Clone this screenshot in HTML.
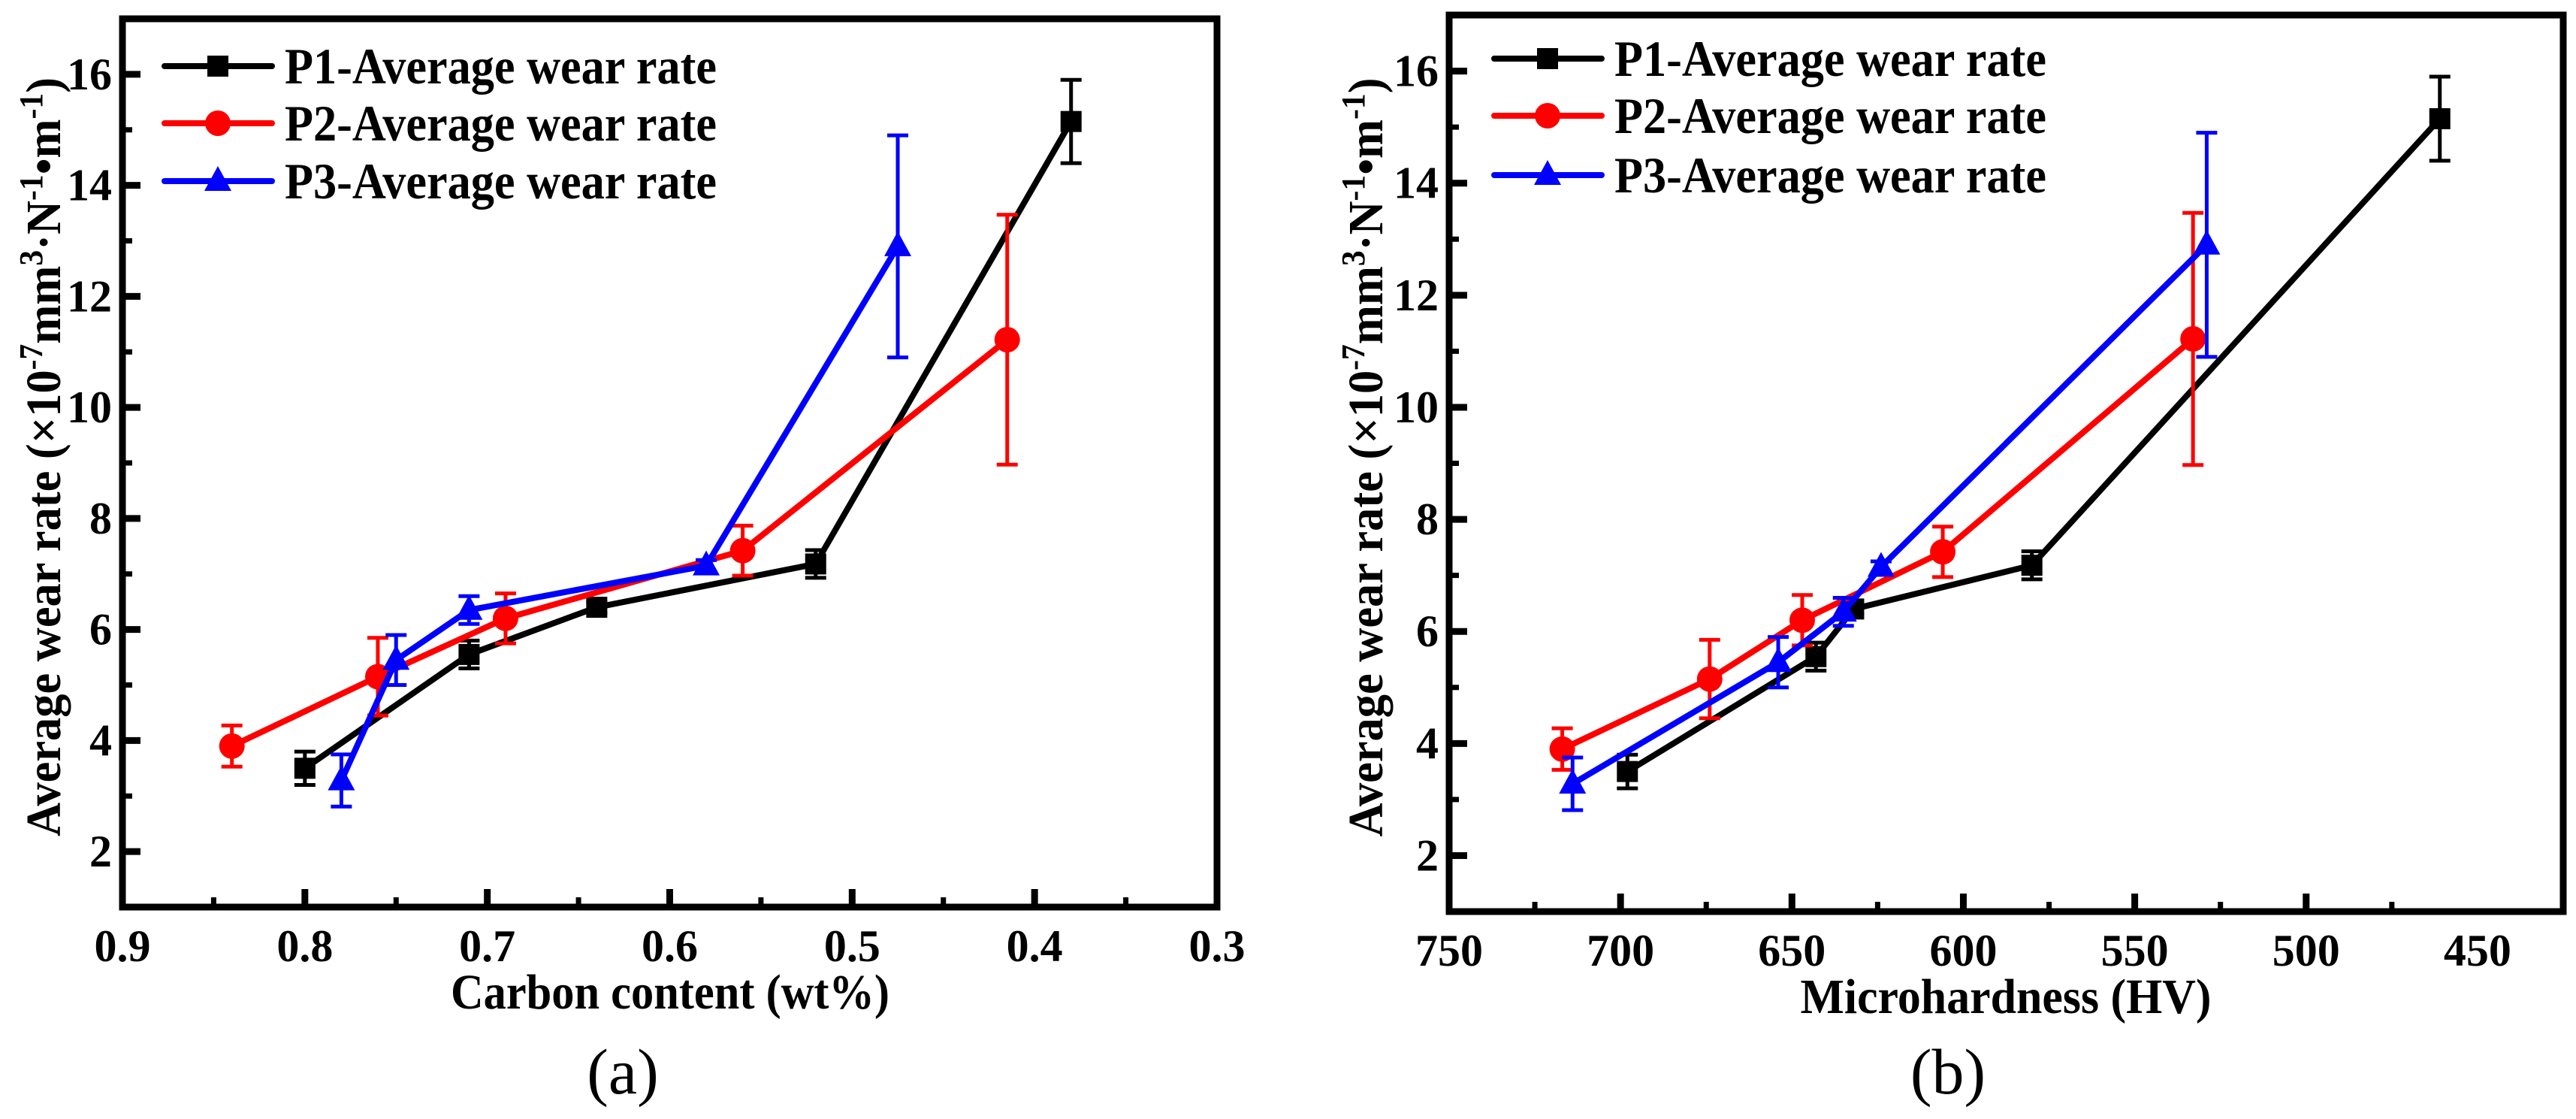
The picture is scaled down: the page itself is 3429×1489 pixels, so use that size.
<!DOCTYPE html>
<html><head><meta charset="utf-8"><style>
html,body{margin:0;padding:0;background:#fff;}
svg{display:block;}
text{font-family:"Liberation Serif","DejaVu Serif","Times New Roman",serif;}
</style></head><body>
<svg id="chart" width="3429" height="1489" viewBox="0 0 3429 1489" xmlns="http://www.w3.org/2000/svg"></svg>
<script>
// ---- data ----
const seriesNames = ["P1-Average wear rate","P2-Average wear rate","P3-Average wear rate"];
const seriesColors = ["#000000","#ff0000","#0000ff"];
const seriesMarkers = ["square","circle","triangle"];
const carbonP1 = [0.80,0.71,0.64,0.52,0.38];
const carbonP2 = [0.84,0.76,0.69,0.56,0.415];
const carbonP3 = [0.78,0.75,0.71,0.58,0.475];
const hardP1 = [698,643,632,580,461];
const hardP2 = [717,674,647,606,533];
const hardP3 = [714,654,635,624,529];
const wearP1 = [3.5,5.55,6.4,7.18,15.15];
const wearP2 = [3.9,5.15,6.2,7.42,11.22];
const wearP3 = [3.28,5.45,6.35,7.15,12.9];
const errP1 = [0.3,0.25,0.1,0.25,0.75];
const errP2 = [0.37,0.7,0.45,0.45,2.25];
const errP3 = [0.47,0.45,0.25,0.1,2.0];
const yTicks = [2,4,6,8,10,12,14,16];
const xTicksA = [0.9,0.8,0.7,0.6,0.5,0.4,0.3];
const xTickLabelsA = ["0.9","0.8","0.7","0.6","0.5","0.4","0.3"];
const xTicksB = [750,700,650,600,550,500,450];
const xTickLabelsB = ["750","700","650","600","550","500","450"];

const NS="http://www.w3.org/2000/svg";
const FF='"Liberation Serif","DejaVu Serif",serif';
const svg=document.getElementById('chart');
function mk(tag,attrs,parent){const e=document.createElementNS(NS,tag);for(const k in attrs)e.setAttribute(k,attrs[k]);if(tag==='text')e.setAttribute('font-family',FF);(parent||svg).appendChild(e);return e;}

function panel(cfg){
  const g=mk('g',{});
  
  
  const {L,R,T,B,xmin,xmax,ymin,ymax}=cfg;
  const sx=v=>L+(v-xmin)/(xmax-xmin)*(R-L);
  const sy=v=>B-(v-ymin)/(ymax-ymin)*(B-T);
  const fr=mk('rect',{x:L,y:T,width:R-L,height:B-T,fill:'none',stroke:'#000','stroke-width':9},g);
  
  
  yTicks.forEach(v=>{
    mk('line',{x1:L,x2:L+24,y1:sy(v),y2:sy(v),stroke:'#000','stroke-width':9},g);
    const mv=v+1; if(mv<ymax) mk('line',{x1:L,x2:L+13,y1:sy(mv),y2:sy(mv),stroke:'#000','stroke-width':7},g);
    const t=mk('text',{x:L-14,y:sy(v)+20,'text-anchor':'end','font-size':60,'font-weight':'bold'},g);
    t.textContent=v;
    
    
  });
  cfg.xt.forEach((v,i)=>{
    const x=sx(v);
    if(i>0&&i<cfg.xt.length-1) mk('line',{x1:x,x2:x,y1:B,y2:B-24,stroke:'#000','stroke-width':9},g);
    if(i<cfg.xt.length-1){const m=sx((v+cfg.xt[i+1])/2);mk('line',{x1:m,x2:m,y1:B,y2:B-13,stroke:'#000','stroke-width':7},g);}
    const t=mk('text',{x:x,y:B+72,'text-anchor':'middle','font-size':60,'font-weight':'bold'},g);
    t.textContent=cfg.xl[i];
    
    
  });
  const xt=mk('text',{x:cfg.xtx,y:B+135,'text-anchor':'middle','font-size':66,'font-weight':'bold',textLength:cfg.xtw,lengthAdjust:'spacingAndGlyphs'},g);
  xt.textContent=cfg.xTitle;
  
  
  const yt=mk('text',{x:0,y:0,'text-anchor':'middle','font-size':66,'font-weight':'bold',textLength:1010,lengthAdjust:'spacingAndGlyphs',transform:`translate(${cfg.ytx},${(T+B)/2-8}) rotate(-90)`},g);
  yt.innerHTML='Average wear rate (×10<tspan dy="-24" font-size="44">-7</tspan><tspan dy="24">mm</tspan><tspan dy="-24" font-size="44">3</tspan><tspan dy="24">·N</tspan><tspan dy="-24" font-size="44">-1</tspan><tspan dy="24">•m</tspan><tspan dy="-24" font-size="44">-1</tspan><tspan dy="24">)</tspan>';
  
  
  cfg.series.forEach((s,k)=>{
    const sg=mk('g',{},g);
    
    
    const col=seriesColors[k];
    const pts=s.x.map((xv,i)=>sx(xv)+','+sy(s.y[i])).join(' ');
    mk('polyline',{points:pts,fill:'none',stroke:col,'stroke-width':8,'stroke-linejoin':'round'},sg);
    s.x.forEach((xv,i)=>{
      const x=sx(xv),y=sy(s.y[i]),y1=sy(s.y[i]+s.e[i]),y2=sy(s.y[i]-s.e[i]);
      const eb=mk('path',{d:`M${x},${y1}V${y2}M${x-14},${y1}H${x+14}M${x-14},${y2}H${x+14}`,stroke:col,'stroke-width':5,fill:'none'},sg);
      
      
      drawMarker(sg,seriesMarkers[k],x,y,col);
    });
  });
  cfg.series.forEach((s,k)=>{
    const lg=mk('g',{},g);
    
    
    const y=cfg.legY[k];
    mk('line',{x1:cfg.legX,x2:cfg.legX+143,y1:y,y2:y,stroke:seriesColors[k],'stroke-width':8,'stroke-linecap':'round'},lg);
    drawMarker(lg,seriesMarkers[k],cfg.legX+71,y,seriesColors[k]);
    const t=mk('text',{x:cfg.legX+160,y:y+23,'font-size':68,'font-weight':'bold',textLength:575,lengthAdjust:'spacingAndGlyphs'},lg);
    t.textContent=seriesNames[k];
  });
  const pl=mk('text',{x:cfg.labX,y:1455,'text-anchor':'middle','font-size':86},g);
  pl.textContent=cfg.label;
  
  
}
function drawMarker(p,type,x,y,col){
  let m;
  if(type==='square') m=mk('rect',{x:x-14,y:y-14,width:28,height:28,fill:col},p);
  else if(type==='circle') m=mk('circle',{cx:x,cy:y,r:17,fill:col},p);
  else m=mk('polygon',{points:`${x},${y-20} ${x+18},${y+13} ${x-18},${y+13}`,fill:col},p);
  
  
}
panel({name:'panel-a-carbon',L:163,R:1620,T:25,B:1207,xmin:0.9,xmax:0.3,ymin:1,ymax:17,
  xt:xTicksA,xl:xTickLabelsA,xTitle:'Carbon content (wt%)',xtx:892,xtw:584,ytx:80,
  series:[{x:carbonP1,y:wearP1,e:errP1},{x:carbonP2,y:wearP2,e:errP2},{x:carbonP3,y:wearP3,e:errP3}],
  legX:219,legY:[88,164,241],labX:829,label:'(a)'});
panel({name:'panel-b-microhardness',L:1929,R:3412,T:20,B:1213,xmin:750,xmax:425,ymin:1,ymax:17,
  xt:xTicksB,xl:xTickLabelsB,xTitle:'Microhardness (HV)',xtx:2670,xtw:547,ytx:1840,
  series:[{x:hardP1,y:wearP1,e:errP1},{x:hardP2,y:wearP2,e:errP2},{x:hardP3,y:wearP3,e:errP3}],
  legX:1989,legY:[78,154,233],labX:2593,label:'(b)'});
</script>
</body></html>
